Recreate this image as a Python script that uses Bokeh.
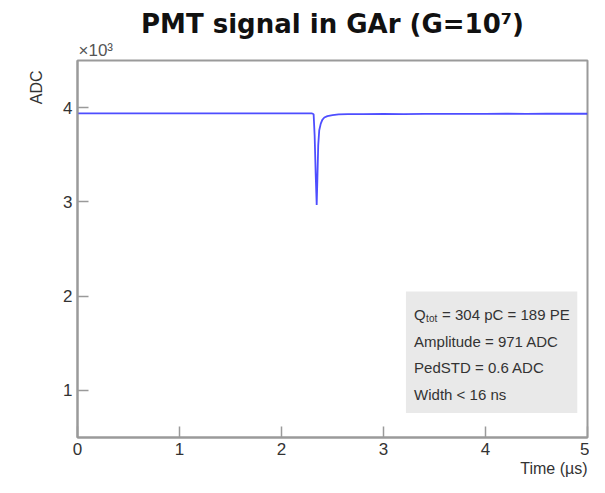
from bokeh.plotting import figure
from bokeh.models import Label, BoxAnnotation, FixedTicker, ColumnDataSource, Title
from bokeh.embed import file_html
from bokeh.resources import INLINE

# ---- data ----
t_us = [0.00, 0.25, 0.50, 0.75, 1.00, 1.25, 1.50, 1.75, 2.00, 2.20, 2.30,
        2.315, 2.325, 2.335, 2.345, 2.352, 2.36, 2.37, 2.385, 2.40, 2.42,
        2.45, 2.50, 2.56, 2.65, 2.80, 3.00, 3.20, 3.40, 3.60, 3.80, 4.00,
        4.20, 4.40, 4.60, 4.80, 5.00]
adc = [3939, 3939, 3940, 3939, 3939, 3940, 3939, 3939, 3940, 3939, 3938,
       3930, 3700, 3300, 2968, 3250, 3600, 3760, 3830, 3870, 3895,
       3910, 3920, 3928, 3932, 3932, 3933, 3931, 3934, 3933, 3934, 3934,
       3935, 3934, 3935, 3935, 3935]
x_ticks = [0, 1, 2, 3, 4, 5]
y_ticks = [1000, 2000, 3000, 4000]
y_tick_labels = ["1", "2", "3", "4"]
info_lines = ["Amplitude = 971 ADC", "PedSTD = 0.6 ADC", "Width < 16 ns"]
title_text = "PMT signal in GAr (G=10\u2077)"

FONT = "Liberation Sans"
GRAY = "#9a9a9a"

p = figure(width=589, height=477, output_backend="svg", toolbar_location=None,
           x_range=(0, 5), y_range=(500, 4500),
           min_border_left=77, min_border_right=2, min_border_top=60,
           min_border_bottom=32)
p.background_fill_color = "white"
p.border_fill_color = "white"
p.outline_line_color = GRAY
p.outline_line_width = 2
p.grid.visible = False

for ax in (p.xaxis[0], p.yaxis[0]):
    ax.axis_line_color = GRAY
    ax.axis_line_width = 2
    ax.major_tick_line_color = GRAY
    ax.major_tick_line_width = 1.5
    ax.major_tick_in = 11
    ax.major_tick_out = 0
    ax.minor_tick_line_color = None
    ax.major_label_text_font = FONT
    ax.major_label_text_font_size = "17px"
    ax.major_label_text_color = "#333333"
    ax.major_label_standoff = 5

p.xaxis.ticker = FixedTicker(ticks=x_ticks)
p.yaxis.ticker = FixedTicker(ticks=y_ticks)
p.yaxis.major_label_overrides = {v: s for v, s in zip(y_ticks, y_tick_labels)}

src = ColumnDataSource(dict(t=t_us, a=adc))
p.line("t", "a", source=src, line_color="#3b3bff", line_width=1.8, line_alpha=0.9)

# info box
p.add_layout(BoxAnnotation(left=3.22, right=4.9, bottom=760, top=2050,
                           fill_color="#e9e9e9", fill_alpha=1.0, line_color=None))
tx = 3.30
ys = [1800, 1515, 1240, 960]
TS = "15px"
p.add_layout(Label(x=tx, y=ys[0], text="Q", text_font=FONT, text_font_size=TS,
                   text_color="#333333", text_baseline="middle"))
p.add_layout(Label(x=tx, y=ys[0], x_offset=12, y_offset=-4, text="tot", text_font=FONT,
                   text_font_size="10px", text_color="#333333", text_baseline="middle"))
p.add_layout(Label(x=tx, y=ys[0], x_offset=28, text="= 304 pC = 189 PE", text_font=FONT,
                   text_font_size=TS, text_color="#333333", text_baseline="middle"))
for s, yy in zip(info_lines, ys[1:]):
    p.add_layout(Label(x=tx, y=yy, text=s, text_font=FONT, text_font_size=TS,
                       text_color="#333333", text_baseline="middle"))

# side texts as titles in the side panels
p.add_layout(Title(text="\u00d710\u00b3", align="left", offset=1, standoff=1,
                   text_font=FONT, text_font_size="17px", text_color="#555555",
                   text_font_style="normal"), "above")
p.add_layout(Title(text=title_text, align="center", standoff=0,
                   text_font="DejaVu Sans", text_font_size="26px", text_color="#111111",
                   text_font_style="bold"), "above")
p.add_layout(Title(text="ADC", align="right", offset=10, standoff=32,
                   text_font=FONT, text_font_size="16px", text_color="#333333",
                   text_font_style="normal"), "left")
p.add_layout(Title(text="Time (\u00b5s)", align="right", standoff=1,
                   text_font=FONT, text_font_size="16px", text_color="#333333",
                   text_font_style="normal"), "below")

open("out.html", "w").write(file_html(p, INLINE))
